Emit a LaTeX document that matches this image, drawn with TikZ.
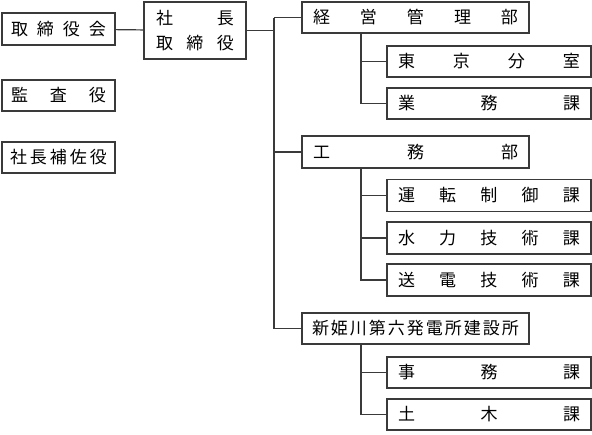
\documentclass[tikz,border=0pt]{standalone}
\usepackage{fontspec}
\newfontfamily\jp{Noto Sans CJK JP}
\definecolor{lc}{HTML}{3A3A3A}
\newcommand\spr[2]{\hbox to #1pt{#2}}
\begin{document}
\begin{tikzpicture}[x=1pt,y=-1pt,
  box/.style={draw=lc,line width=1.2pt,rectangle,inner sep=0pt,font=\jp\fontsize{17}{17}\selectfont,text=black},
  wide/.style={box,minimum width=227pt,minimum height=31pt},
  sub/.style={box,minimum width=204pt,minimum height=31pt},
  left/.style={box,minimum width=113pt,minimum height=31pt},
  con/.style={draw=lc,line width=1.2pt}]
\useasboundingbox (0,0) rectangle (592,434);
\node[left,minimum height=32pt] (kai) at (58.5,29) {\spr{95}{取\hfill 締\hfill 役\hfill 会}};
\node[left] (kansa) at (58.5,95.5) {\spr{95}{監\hfill 査\hfill 役}};
\node[left] (hosa) at (58.5,157.5) {\spr{97}{社\hfill 長\hfill 補\hfill 佐\hfill 役}};
\node[box,minimum width=102pt,minimum height=57pt] (shacho) at (195,30.5)
  {\vbox{\baselineskip=25pt\spr{78}{社\hfill 長}\spr{78}{取\hfill 締\hfill 役}}};
\node[wide] (keiei) at (415.5,17.5) {\spr{205}{経\hfill 営\hfill 管\hfill 理\hfill 部}};
\node[sub] (tokyo) at (489,61.5) {\spr{182}{東\hfill 京\hfill 分\hfill 室}};
\node[sub] (gyomu) at (489,103.5) {\spr{182}{業\hfill 務\hfill 課}};
\node[wide,minimum height=32pt] (komu) at (415.5,152) {\spr{205}{工\hfill 務\hfill 部}};
\node[sub,minimum height=32pt] (unten) at (489,195.5) {\spr{182}{運\hfill 転\hfill 制\hfill 御\hfill 課}};
\node[sub,minimum height=32pt] (suiryoku) at (489,238) {\spr{182}{水\hfill 力\hfill 技\hfill 術\hfill 課}};
\node[sub,minimum height=32pt] (soden) at (489,280) {\spr{182}{送\hfill 電\hfill 技\hfill 術\hfill 課}};
\node[wide] (shin) at (415.5,328.5) {\spr{207}{新\hfill 姫\hfill 川\hfill 第\hfill 六\hfill 発\hfill 電\hfill 所\hfill 建\hfill 設\hfill 所}};
\node[sub] (jimu) at (489,372.5) {\spr{182}{事\hfill 務\hfill 課}};
\node[sub] (doboku) at (489,414.5) {\spr{182}{土\hfill 木\hfill 課}};
\coordinate (t) at (274,0);
\coordinate (s) at (361,0);
\draw[con] (kai) -- (shacho);
\draw[con] (shacho.east) -- (t |- shacho.east);
\draw[con] (t |- keiei.west) -- (t |- shin.west);
\draw[con] (t |- keiei.west) -- (keiei.west);
\draw[con] (t |- komu.west) -- (komu.west);
\draw[con] (t |- shin.west) -- (shin.west);
\draw[con] (s |- keiei.south) |- (gyomu.west);
\draw[con] (s |- tokyo.west) -- (tokyo.west);
\draw[con] (s |- komu.south) |- (soden.west);
\draw[con] (s |- unten.west) -- (unten.west);
\draw[con] (s |- suiryoku.west) -- (suiryoku.west);
\draw[con] (s |- shin.south) |- (doboku.west);
\draw[con] (s |- jimu.west) -- (jimu.west);
\end{tikzpicture}
\end{document}
